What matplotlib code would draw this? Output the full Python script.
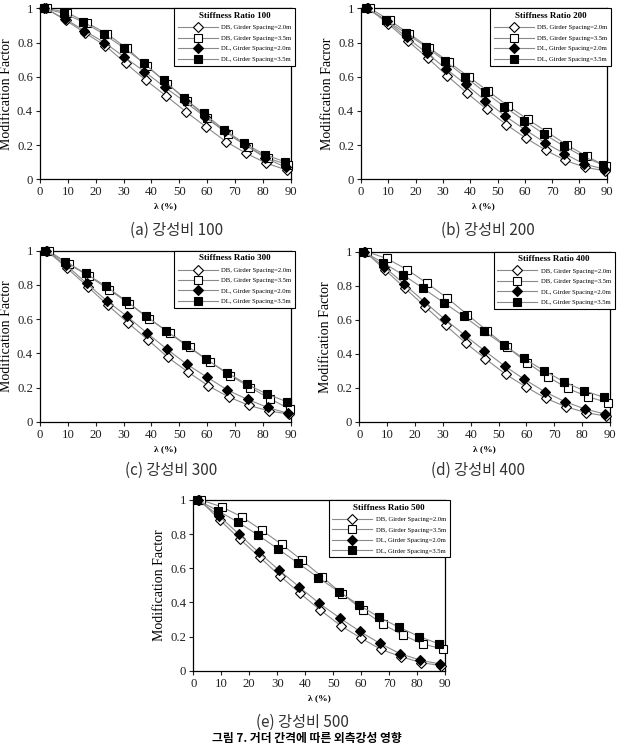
import numpy as np
import matplotlib
matplotlib.use('Agg')
import matplotlib.pyplot as plt

# 글꼴 설정
plt.rcParams['font.family'] = ['Liberation Serif', 'DejaVu Serif']
plt.rcParams['axes.unicode_minus'] = False

ratios = [100, 200, 300, 400, 500]
tags = ['(a)', '(b)', '(c)', '(d)', '(e)']
ylabels = ['Modification Factor', 'Modification Facror', 'Modification Factor',
           'Modification Factor', 'Modification Factor']
labels = ['DB, Girder Spacing=2.0m', 'DB, Girder Spacing=3.5m',
          'DL, Girder Spacing=2.0m', 'DL, Girder Spacing=3.5m']
x_ticks = [0, 10, 20, 30, 40, 50, 60, 70, 80, 90]
y_ticks = [0, 0.2, 0.4, 0.6, 0.8, 1.0]
y_ticklabels = ['0', '0.2', '0.4', '0.6', '0.8', '1']

# λ (%) 값 (패널별)
lam_a = [1.3, 8.5, 15.6, 22.8, 30.0, 37.2, 44.4, 51.6, 58.8, 66.1, 73.4, 80.6, 87.9]
lam_b = [2.0, 9.2, 16.4, 23.7, 30.9, 38.1, 45.3, 52.5, 59.8, 67.0, 74.2, 81.4, 88.6]
lam_c = [1.8, 9.1, 16.4, 23.6, 30.8, 38.0, 45.2, 52.5, 59.7, 67.0, 74.2, 81.4, 88.6]
lam_d = [1.4, 8.6, 15.8, 23.0, 30.3, 37.5, 44.6, 51.9, 59.0, 66.3, 73.5, 80.7, 87.9]
lam_e = [1.5, 8.8, 16.0, 23.1, 30.3, 37.5, 44.7, 52.0, 59.3, 66.4, 73.6, 80.8, 88.0]

# 강성비 100
db20_a = [1.0, 0.93, 0.855, 0.78, 0.68, 0.58, 0.49, 0.396, 0.308, 0.22, 0.151, 0.094, 0.054]
db35_a = [1.0, 0.975, 0.915, 0.85, 0.765, 0.66, 0.56, 0.46, 0.357, 0.265, 0.19, 0.123, 0.084]
dl20_a = [1.0, 0.94, 0.87, 0.80, 0.715, 0.63, 0.54, 0.455, 0.366, 0.28, 0.20, 0.125, 0.07]
dl35_a = [1.0, 0.97, 0.92, 0.85, 0.77, 0.68, 0.58, 0.475, 0.385, 0.29, 0.21, 0.145, 0.103]
# 강성비 200
db20_b = [1.0, 0.91, 0.81, 0.71, 0.605, 0.505, 0.41, 0.32, 0.24, 0.17, 0.11, 0.07, 0.05]
db35_b = [1.0, 0.93, 0.85, 0.77, 0.685, 0.60, 0.515, 0.43, 0.35, 0.275, 0.20, 0.135, 0.075]
dl20_b = [1.0, 0.925, 0.83, 0.74, 0.645, 0.555, 0.46, 0.37, 0.29, 0.215, 0.15, 0.09, 0.06]
dl35_b = [1.0, 0.93, 0.854, 0.776, 0.69, 0.60, 0.51, 0.425, 0.343, 0.265, 0.195, 0.133, 0.084]
# 강성비 300
db20_c = [1.0, 0.897, 0.79, 0.682, 0.579, 0.48, 0.376, 0.29, 0.21, 0.145, 0.096, 0.063, 0.045]
db35_c = [1.0, 0.92, 0.85, 0.77, 0.69, 0.60, 0.52, 0.435, 0.35, 0.27, 0.20, 0.133, 0.072]
dl20_c = [1.0, 0.916, 0.81, 0.708, 0.618, 0.52, 0.425, 0.335, 0.26, 0.185, 0.13, 0.084, 0.049]
dl35_c = [1.0, 0.936, 0.867, 0.793, 0.708, 0.618, 0.532, 0.446, 0.365, 0.287, 0.22, 0.162, 0.117]
# 강성비 400
db20_d = [1.0, 0.892, 0.784, 0.676, 0.567, 0.463, 0.37, 0.278, 0.206, 0.137, 0.088, 0.053, 0.033]
db35_d = [1.0, 0.96, 0.895, 0.815, 0.727, 0.63, 0.535, 0.437, 0.347, 0.265, 0.196, 0.147, 0.112]
dl20_d = [1.0, 0.912, 0.81, 0.706, 0.604, 0.51, 0.418, 0.327, 0.249, 0.176, 0.118, 0.075, 0.045]
dl35_d = [1.0, 0.935, 0.863, 0.784, 0.70, 0.62, 0.535, 0.45, 0.373, 0.30, 0.235, 0.182, 0.143]
# 강성비 500
db20_e = [1.0, 0.883, 0.77, 0.664, 0.555, 0.453, 0.355, 0.264, 0.19, 0.125, 0.082, 0.047, 0.03]
db35_e = [1.0, 0.96, 0.902, 0.824, 0.74, 0.648, 0.55, 0.45, 0.355, 0.273, 0.209, 0.156, 0.127]
dl20_e = [1.0, 0.908, 0.80, 0.693, 0.59, 0.492, 0.395, 0.31, 0.23, 0.16, 0.10, 0.062, 0.039]
dl35_e = [1.0, 0.937, 0.87, 0.795, 0.713, 0.63, 0.545, 0.463, 0.385, 0.313, 0.254, 0.20, 0.156]

lams = [lam_a, lam_b, lam_c, lam_d, lam_e]
curves = [[db20_a, db35_a, dl20_a, dl35_a],
          [db20_b, db35_b, dl20_b, dl35_b],
          [db20_c, db35_c, dl20_c, dl35_c],
          [db20_d, db35_d, dl20_d, dl35_d],
          [db20_e, db35_e, dl20_e, dl35_e]]

# 마커 스타일 / 약간의 x 어긋남
markers = ['D', 's', 'D', 's']
faces = ['white', 'white', 'black', 'black']
sizes = [5.6, 6.4, 5.6, 6.4]
shifts = [0.7, 1.3, 0.3, 0.0]

W, H = 619, 747
# 축 위치 (픽셀: left, top, right, bottom)
boxes = [(40, 8.3, 290.7, 179.3), (361, 8.3, 606.7, 179.3),
         (40, 250.7, 290.7, 421.7), (359.3, 251.7, 610, 421.7),
         (193.3, 500, 445, 670.7)]
caps = [(177, 230), (488, 230), (171, 470), (478, 470), (302, 722)]

fig = plt.figure(figsize=(W / 100, H / 100), dpi=100)

for i in range(5):
    l, t, r, b = boxes[i]
    ax = fig.add_axes([l / W, 1 - b / H, (r - l) / W, (b - t) / H])
    for k in range(4):
        x = np.array(lams[i]) + shifts[k]
        ax.plot(x, curves[i][k], color='#8a8a8a', lw=0.8, marker=markers[k],
                ms=sizes[k], mfc=faces[k], mec='black', mew=0.8,
                label=labels[k], clip_on=False, zorder=3 + k)
    ax.set_xlim(0, 90)
    ax.set_ylim(0, 1)
    ax.set_xticks(x_ticks)
    ax.set_yticks(y_ticks)
    ax.set_yticklabels(y_ticklabels)
    ax.tick_params(direction='out', length=3, width=0.8, labelsize=9.2, pad=2,
                   colors='#222222')
    for s in ax.spines.values():
        s.set_linewidth(0.9)
    ax.set_ylabel(ylabels[i], fontsize=10, labelpad=3)
    ax.set_xlabel('λ (%)', fontsize=6.8, fontweight='bold', labelpad=3)
    leg = ax.legend(loc='upper right', bbox_to_anchor=(1.018, 1.0),
                    borderaxespad=0, fontsize=4.8, handlelength=6.0,
                    handletextpad=0.5, labelspacing=0.72, borderpad=0.55,
                    fancybox=False, framealpha=1, edgecolor='black',
                    title='Stiffness Ratio %d' % ratios[i],
                    title_fontproperties={'size': 6.5, 'weight': 'bold'})
    leg.get_frame().set_linewidth(0.8)
    cx, cy = caps[i]
    fig.text(cx / W, 1 - cy / H, '%s 강성비 %d' % (tags[i], ratios[i]),
             ha='center', va='center', fontsize=11, color='#333333',
             family=['Noto Sans CJK KR', 'DejaVu Sans'])

# 하단 그림 제목
fig.text(307 / W, 2 / H, '그림 7. 거더 간격에 따른 외측강성 영향', ha='center', va='bottom',
         fontsize=8.5, fontweight='bold', family=['Noto Sans CJK KR', 'DejaVu Sans'])

fig.savefig('out.png', dpi=100)
